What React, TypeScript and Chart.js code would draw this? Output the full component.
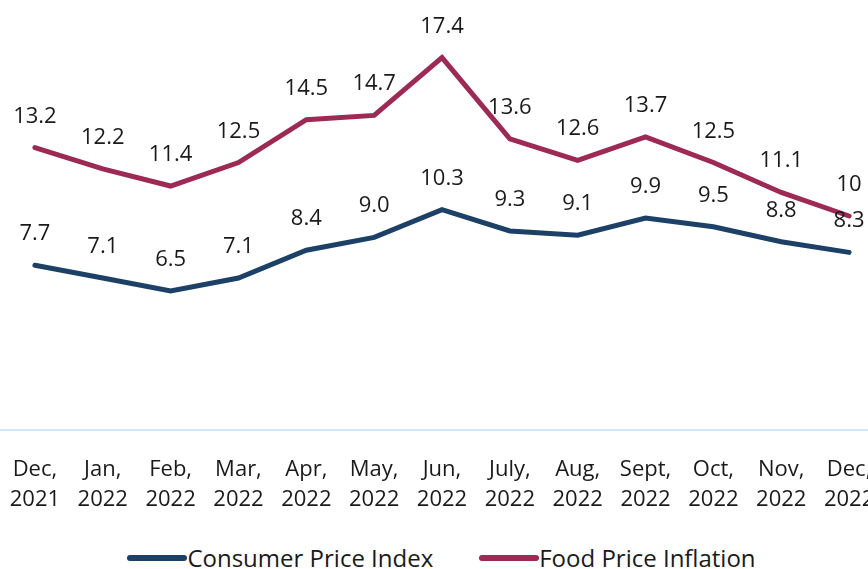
import React, { useEffect, useRef } from "react";
import { Chart, registerables } from "chart.js";

Chart.register(...registerables);

const months = ["Dec,", "Jan,", "Feb,", "Mar,", "Apr,", "May,", "Jun,", "July,", "Aug,", "Sept,", "Oct,", "Nov,", "Dec,"];
const years = ["2021", "2022", "2022", "2022", "2022", "2022", "2022", "2022", "2022", "2022", "2022", "2022", "2022"];
const cpiValues = [7.7, 7.1, 6.5, 7.1, 8.4, 9.0, 10.3, 9.3, 9.1, 9.9, 9.5, 8.8, 8.3];
const foodValues = [13.2, 12.2, 11.4, 12.5, 14.5, 14.7, 17.4, 13.6, 12.6, 13.7, 12.5, 11.1, 10];
const cpiLabels = ["7.7", "7.1", "6.5", "7.1", "8.4", "9.0", "10.3", "9.3", "9.1", "9.9", "9.5", "8.8", "8.3"];
const foodLabels = ["13.2", "12.2", "11.4", "12.5", "14.5", "14.7", "17.4", "13.6", "12.6", "13.7", "12.5", "11.1", "10"];

const NAVY = "#1c4066";
const MAROON = "#9c2a55";
const FONT = "'Open Sans', 'Noto Sans', sans-serif";

const W = 883;
const H = 525;

const dataLabelPlugin = {
  id: "dataLabels",
  afterDatasetsDraw(chart: any) {
    const ctx = chart.ctx;
    ctx.save();
    ctx.font = `22px ${FONT}`;
    ctx.fillStyle = "#1a1a1a";
    ctx.textAlign = "center";
    ctx.textBaseline = "alphabetic";
    chart.data.datasets.forEach((ds: any, i: number) => {
      const meta = chart.getDatasetMeta(i);
      const texts = ds.pointTexts as string[];
      meta.data.forEach((pt: any, j: number) => {
        ctx.fillText(texts[j], pt.x, pt.y - 25);
      });
    });
    ctx.restore();
  },
};

export default function App() {
  const ref = useRef<HTMLCanvasElement | null>(null);

  useEffect(() => {
    if (!ref.current) return;
    const chart = new Chart(ref.current, {
      type: "line",
      data: {
        labels: months.map((m, i) => [m, years[i]]),
        datasets: [
          {
            label: "Consumer Price Index",
            data: cpiValues,
            borderColor: NAVY,
            backgroundColor: NAVY,
            borderWidth: 5,
            pointRadius: 0,
            tension: 0,
            borderCapStyle: "round",
            borderJoinStyle: "miter",
            pointTexts: cpiLabels,
          } as any,
          {
            label: "Food Price Inflation",
            data: foodValues,
            borderColor: MAROON,
            backgroundColor: MAROON,
            borderWidth: 5,
            pointRadius: 0,
            tension: 0,
            borderCapStyle: "round",
            borderJoinStyle: "miter",
            pointTexts: foodLabels,
          } as any,
        ],
      },
      options: {
        animation: false,
        responsive: false,
        maintainAspectRatio: false,
        layout: { padding: { top: 2, left: 1, right: 0, bottom: 0 } },
        plugins: {
          legend: { display: false },
          tooltip: { enabled: false },
        },
        scales: {
          x: {
            offset: true,
            grid: { display: false },
            border: { display: true, color: "#d5e8f7", width: 2 },
            ticks: {
              color: "#1a1a1a",
              font: { family: FONT, size: 22, lineHeight: 1.36 },
              maxRotation: 0,
              autoSkip: false,
              padding: 17,
            },
            afterFit(scale: any) {
              scale.height = H - 430;
              scale.paddingLeft = 0;
              scale.paddingRight = 0;
            },
          },
          y: {
            display: false,
            min: 0,
            max: 20,
          },
        },
      },
      plugins: [dataLabelPlugin],
    });
    return () => chart.destroy();
  }, []);

  const legendItem = (color: string, text: string) => (
    <div style={{ display: "flex", alignItems: "center" }}>
      <div style={{ width: 60, height: 6, borderRadius: 3, background: color, marginRight: 0 }} />
      <span>{text}</span>
    </div>
  );

  return (
    <div style={{ position: "absolute", left: 0, top: 0, width: 868, height: 569, overflow: "hidden", background: "#fff" }}>
      <div style={{ position: "absolute", left: 0, top: 0, width: W, height: 569 }}>
        <canvas ref={ref} width={W} height={H} style={{ width: W, height: H, display: "block" }} />
        <div
          style={{
            position: "absolute",
            left: 0,
            top: 542,
            width: W,
            display: "flex",
            justifyContent: "center",
            gap: 46,
            fontFamily: FONT,
            fontSize: 24,
            color: "#1a1a1a",
            lineHeight: "32px",
          }}
        >
          {legendItem(NAVY, "Consumer Price Index")}
          {legendItem(MAROON, "Food Price Inflation")}
        </div>
      </div>
    </div>
  );
}
